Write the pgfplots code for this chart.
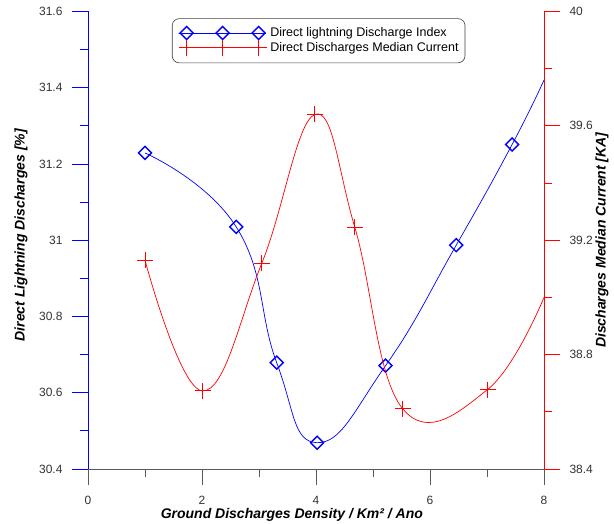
\documentclass[border=0pt]{standalone}
\usepackage{fontspec}
\setmainfont{Liberation Sans}
\usepackage{pgfplots}
\pgfplotsset{compat=1.18}
\begin{document}
\begin{tikzpicture}[x=1pt,y=1pt]
\useasboundingbox (-88,-55) rectangle (526,469);
\pgfplotsset{
  common/.style={
    at={(0,0)}, anchor=south west,
    scale only axis, width=456pt, height=457.5pt,
    xmin=0, xmax=8,
    tick align=outside,
    major tick length=16pt, minor tick length=8pt,
    tick label style={font=\fontsize{12}{14}\selectfont, text=black!80},
    /pgf/number format/assume math mode=true,
    label style={font=\fontsize{14}{16}\selectfont\bfseries\itshape},
  },
  bluestyle/.style={blue, line width=0.7pt, smooth, tension=0.8,
    mark=square, mark size=4.6pt, mark indices={1,...,7},
    mark options={rotate=45, line width=1.4pt, solid, blue}},
  redstyle/.style={red, line width=0.7pt, smooth, tension=0.7,
    mark=+, mark size=8pt, mark indices={1,...,7},
    mark options={line width=0.9pt, red}},
}
\begin{axis}[common,
  ymin=30.4, ymax=31.6,
  axis y line*=left, axis x line*=bottom,
  xtick={0,2,4,6,8}, minor x tick num=1,
  ytick={30.4,30.6,30.8,31,31.2,31.4,31.6}, minor y tick num=1,
  y axis line style={blue, line width=0.8pt},
  ytick style={blue, line width=0.8pt},
  x axis line style={black!65, line width=0.8pt},
  xtick style={black!65, line width=0.8pt},
  yticklabel style={xshift=-6pt},
  xticklabel style={yshift=-8pt},
  xlabel={Ground Discharges Density / Km² / Ano},
  xlabel style={at={(axis description cs:0.447,0)}, anchor=center, yshift=-46pt},
  ylabel={Direct Lightning Discharges [\%]},
  ylabel style={at={(axis description cs:-0.147,0.511)}, anchor=center},
]
\addplot[bluestyle] coordinates {
(1.00,31.229) (2.60,31.035) (3.31,30.679) (4.02,30.469)
(5.22,30.671) (6.46,30.987) (7.44,31.251) (8.00,31.420)};
\end{axis}
\begin{axis}[common,
  ymin=38.4, ymax=40,
  axis y line*=right, axis x line=none,
  ytick={38.4,38.8,39.2,39.6,40}, minor y tick num=1,
  y axis line style={red, line width=0.8pt},
  ytick style={red, line width=0.8pt},
  yticklabel style={xshift=6pt, /pgf/number format/.cd, fixed, precision=1},
  ylabel={Discharges Median Current [KA]},
  ylabel style={at={(axis description cs:1.127,0.5)}, anchor=center},
  legend style={at={(axis description cs:0.184,0.985)}, anchor=north west,
    draw=black!75, rounded corners=7pt, line width=0.6pt,
    font=\fontsize{12.5}{14}\selectfont, inner xsep=4.5pt, inner ysep=7pt,
    row sep=-0.4pt,
    /tikz/every even column/.append style={column sep=8pt}},
  legend cell align=left,
  legend image code/.code={\draw[#1, mark indices={2,3,4}] plot coordinates {(0pt,0pt) (7pt,0pt) (43pt,0pt) (79pt,0pt) (85pt,0pt)};},
]
\addlegendimage{bluestyle}
\addlegendentry{Direct lightning Discharge Index}
\addplot[redstyle] coordinates {
(1.00,39.13) (2.01,38.673) (3.05,39.12) (3.98,39.64)
(4.68,39.246) (5.52,38.611) (7.01,38.678) (8.00,39.00)};
\addlegendentry{Direct Discharges Median Current}
\end{axis}
\end{tikzpicture}
\end{document}
